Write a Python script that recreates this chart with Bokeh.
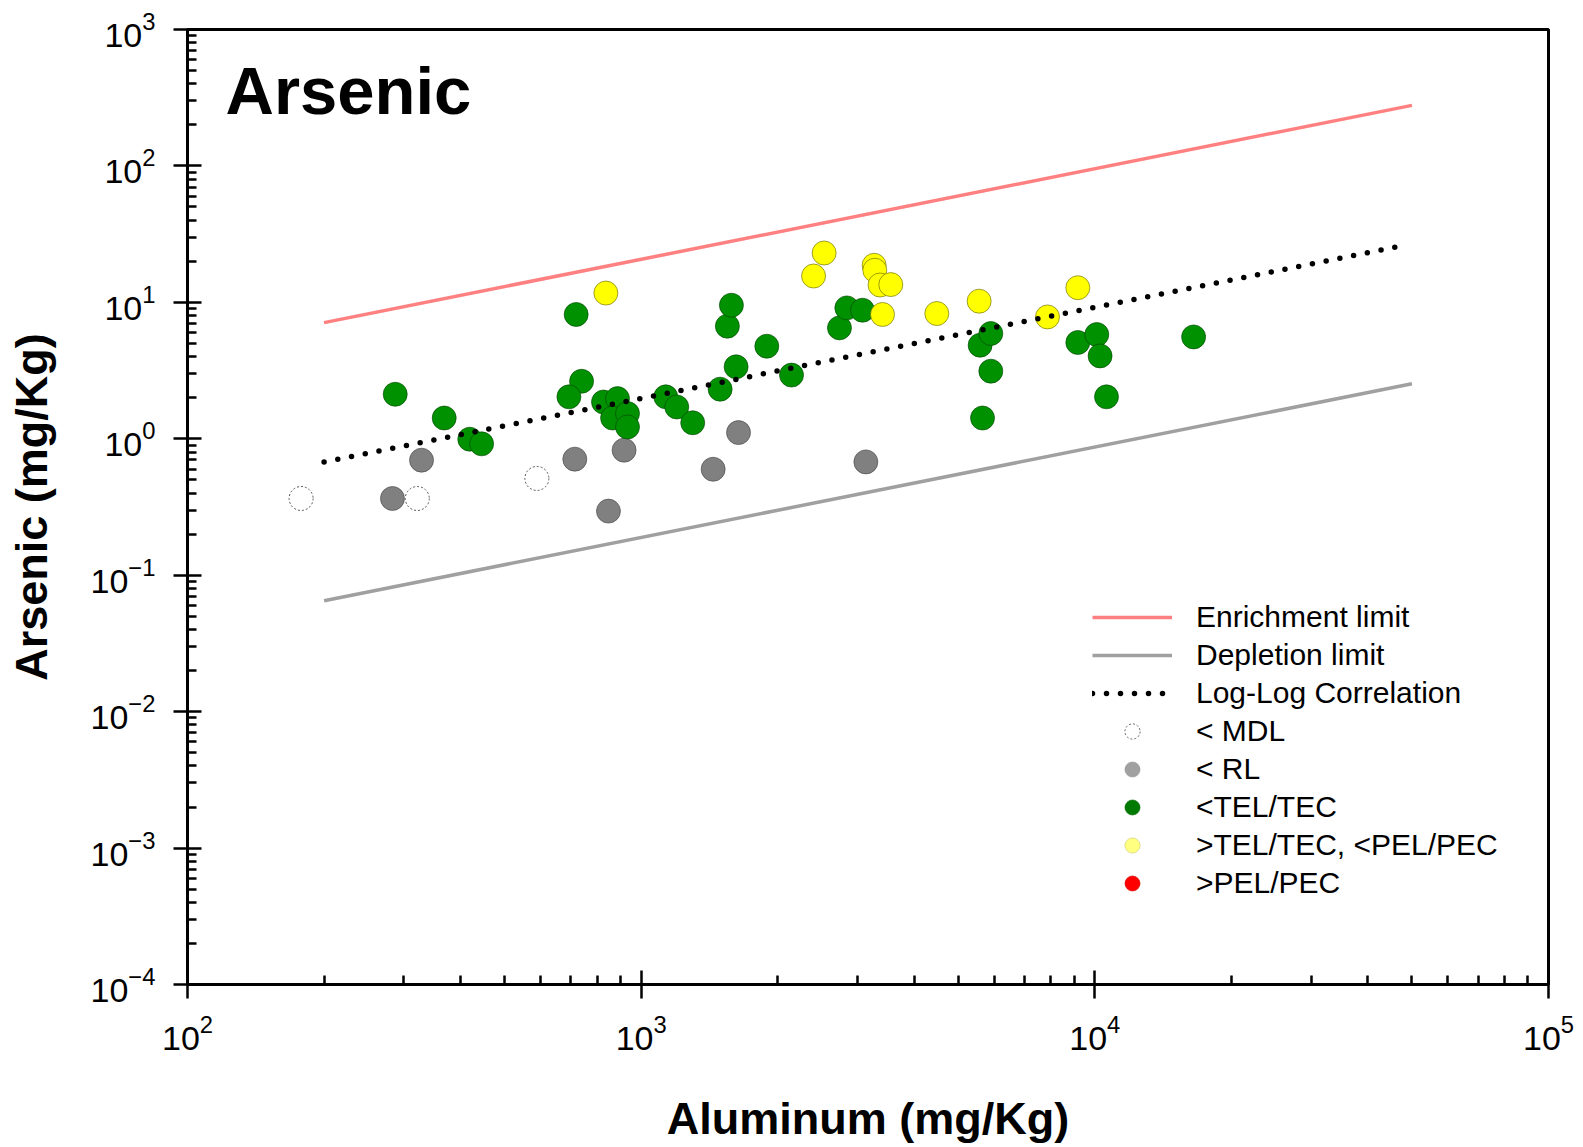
from bokeh.plotting import figure
from bokeh.models import FixedTicker, LogTickFormatter, Legend, LegendItem, Label, ColumnDataSource, Range1d
from bokeh.embed import file_html
from bokeh.resources import INLINE

# ---------------- data ----------------
x_major = [1e2, 1e3, 1e4, 1e5]
y_major = [1e-4, 1e-3, 1e-2, 1e-1, 1e0, 1e1, 1e2, 1e3]

mdl_x = [178, 321, 589]
mdl_y = [0.365, 0.365, 0.512]

rl_x = [283, 328, 714, 847, 917, 1441, 1639, 3128]
rl_y = [0.365, 0.697, 0.709, 0.295, 0.825, 0.598, 1.11, 0.677]

tel_x = [287, 368, 419, 445, 719, 739, 693, 826, 887, 865, 933, 933, 1133, 1198,
         1299, 1493, 1549, 1581, 1619, 1892, 2145, 2736, 2840, 3075, 5587, 5898,
         5898, 5655, 9173, 10100, 10270, 10610, 16510]
tel_y = [2.12, 1.42, 0.993, 0.918, 8.15, 2.64, 2.03, 1.86, 1.97, 1.42, 1.53, 1.22,
         2.03, 1.71, 1.31, 2.31, 6.69, 9.53, 3.37, 4.77, 2.93, 6.50, 9.11, 8.76,
         4.85, 5.91, 3.13, 1.42, 5.08, 5.81, 4.05, 2.03, 5.58]

tec_x = [836, 2399, 2531, 3262, 3273, 3362, 3550, 3404, 4484, 5559, 7864, 9173]
tec_y = [11.7, 15.6, 23.0, 18.7, 17.2, 13.4, 13.5, 8.15, 8.28, 10.2, 7.82, 12.8]

enr_x = [200, 50000]
enr_y = [7.1, 278]
dep_x = [200, 50000]
dep_y = [0.065, 2.53]
cor_x = [200, 48000]
cor_y = [0.677, 26.1]

legend_labels = ["Enrichment limit", "Depletion limit", "Log-Log Correlation",
                 "< MDL", "< RL", "<TEL/TEC", ">TEL/TEC, <PEL/PEC", ">PEL/PEC"]

FONT = "Liberation Sans"

p = figure(width=1583, height=1147, x_axis_type="log", y_axis_type="log",
           x_range=Range1d(1e2, 1e5), y_range=Range1d(1e-4, 1e3),
           output_backend="svg", toolbar_location=None,
           min_border_left=187, min_border_right=35, min_border_top=29, min_border_bottom=163)
p.background_fill_color = "white"
p.border_fill_color = "white"
p.grid.visible = False
p.outline_line_color = "black"
p.outline_line_width = 3
p.outline_line_alpha = 1.0

x_minor = [m * 10 ** e for e in range(2, 5) for m in range(2, 10)]
y_minor = [m * 10 ** e for e in range(-4, 3) for m in range(2, 10)]
p.xaxis.ticker = FixedTicker(ticks=x_major, minor_ticks=x_minor)
p.yaxis.ticker = FixedTicker(ticks=y_major, minor_ticks=y_minor)
p.xaxis.formatter = LogTickFormatter()
p.yaxis.formatter = LogTickFormatter()

for ax in (p.xaxis, p.yaxis):
    ax.axis_line_width = 3
    ax.axis_line_color = "black"
    ax.major_tick_line_width = 2.5
    ax.minor_tick_line_width = 2.5
    ax.major_tick_in = 14
    ax.major_tick_out = 14
    ax.minor_tick_in = 9
    ax.minor_tick_out = 0
    ax.major_label_text_font = FONT
    ax.major_label_text_font_size = "34px"
    ax.major_label_text_color = "black"
    ax.axis_label_text_font = FONT
    ax.axis_label_text_font_size = "45px"
    ax.axis_label_text_font_style = "bold"
    ax.axis_label_text_color = "black"

p.xaxis.axis_label = "Aluminum (mg/Kg)"
p.yaxis.axis_label = "Arsenic (mg/Kg)"
p.xaxis.major_label_standoff = 16
p.xaxis.axis_label_standoff = 40
p.yaxis.major_label_standoff = 18
p.yaxis.axis_label_standoff = 31

# ---------------- limit lines ----------------
r_enr = p.line(enr_x, enr_y, line_color="#ff8080", line_width=3.5)
r_dep = p.line(dep_x, dep_y, line_color="#a0a0a0", line_width=3.5)

# ---------------- points ----------------
PT = 24
p.scatter(mdl_x, mdl_y, size=PT, fill_color="white", line_color="#555555",
          line_width=1, line_dash="2 2")
p.scatter(rl_x, rl_y, size=PT, fill_color="#808080", line_color="#404040", line_width=0.6)
p.scatter(tel_x, tel_y, size=PT, fill_color="#009100", line_color="#004000", line_width=0.6)
p.scatter(tec_x, tec_y, size=PT, fill_color="#ffff00", line_color="#606000", line_width=0.6)

r_cor = p.line(cor_x, cor_y, line_color="black", line_width=5.5, line_dash="0 14",
               line_cap="round")

# legend-only markers (a single NaN point: nothing drawn in the plot)
nan = float("nan")
def legend_marker(**kw):
    src = ColumnDataSource(dict(x=[nan], y=[nan]))
    return p.scatter("x", "y", source=src, **kw)

l_mdl = legend_marker(fill_color="white", line_color="#666666", line_width=1, line_dash="2 2")
l_rl = legend_marker(fill_color="#a0a0a0", line_color="#909090", line_width=0.5)
l_tel = legend_marker(fill_color="#007a00", line_color="#006000", line_width=0.5)
l_tec = legend_marker(fill_color="#ffff80", line_color="#c0c060", line_width=0.5)
l_pel = legend_marker(fill_color="#ff0000", line_color="#d00000", line_width=0.5)

rends = [r_enr, r_dep, r_cor, l_mdl, l_rl, l_tel, l_tec, l_pel]
items = [LegendItem(label=lab, renderers=[r]) for lab, r in zip(legend_labels, rends)]
legend = Legend(items=items, location=(905, 82), orientation="vertical",
                glyph_width=80, glyph_height=38, label_height=38, spacing=0,
                label_standoff=24, padding=0, margin=0,
                label_text_font=FONT, label_text_font_size="30px",
                label_text_color="black", border_line_color=None,
                background_fill_alpha=0.0)
p.add_layout(legend)

title = Label(x=121.3, y=360, text="Arsenic", text_font=FONT, text_font_size="67px",
              text_font_style="bold", text_color="black", text_baseline="alphabetic")
p.add_layout(title)

open("out.html", "w").write(file_html(p, INLINE))
